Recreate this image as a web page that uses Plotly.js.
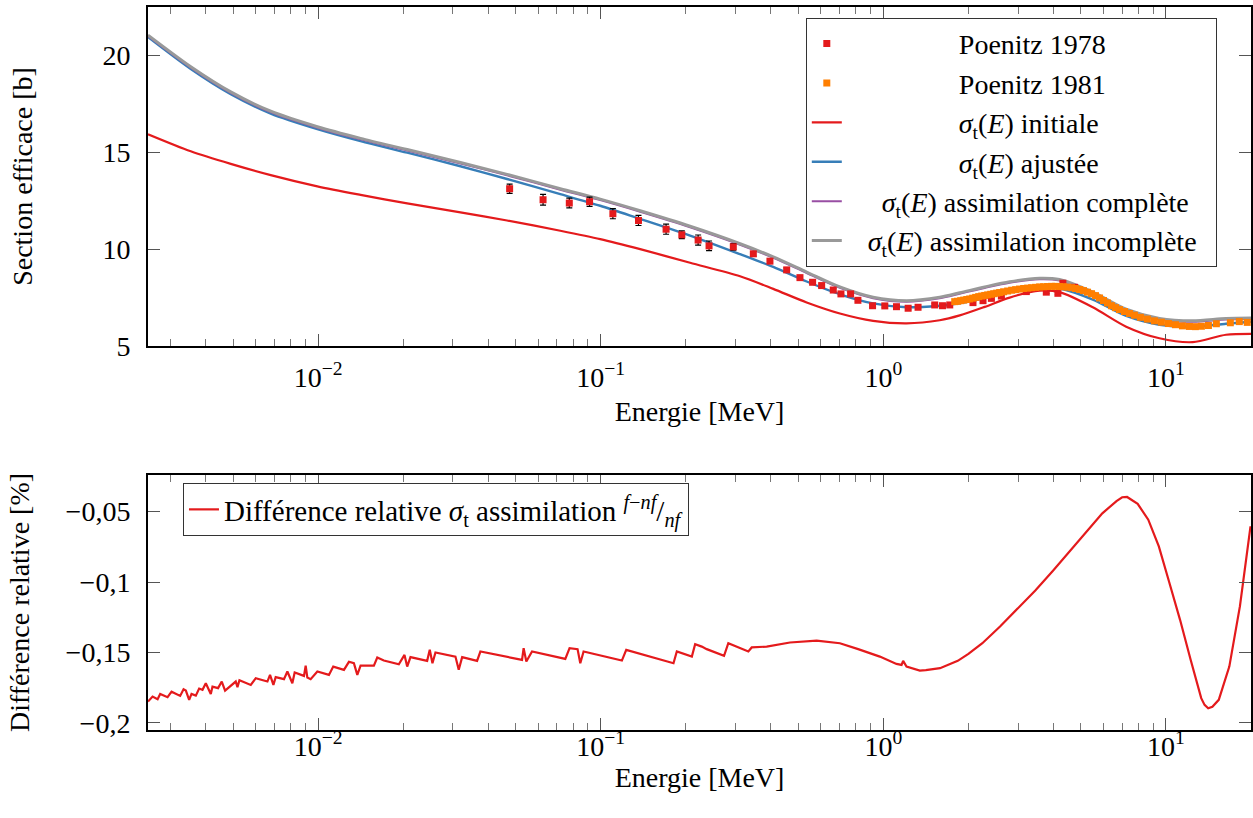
<!DOCTYPE html>
<html><head><meta charset="utf-8">
<script src="https://cdn.plot.ly/plotly-3.0.1.min.js"></script>
<style>html,body{margin:0;padding:0;background:#fff}#chart{width:1253px;height:818px}</style>
</head><body><div id="chart"></div>
<script>
// ---------- data ----------
const curveEnergy = [0.0025, 0.003543, 0.004906, 0.006796, 0.009936, 0.01413, 0.02066, 0.03188, 0.04662, 0.07193, 0.09959, 0.1379, 0.2071, 0.3112, 0.4078, 0.5354, 0.7019, 0.9204, 1.208, 1.583, 1.864, 2.284, 2.799, 3.573, 4.204, 5.512, 7.233, 9.485, 12.44, 16.32, 20];
const sigmaInitiale = [15.93, 15.05, 14.4, 13.82, 13.24, 12.8, 12.36, 11.9, 11.48, 10.95, 10.52, 10.0, 9.3, 8.6, 7.95, 7.25, 6.68, 6.3, 6.17, 6.33, 6.58, 7.02, 7.5, 7.86, 7.78, 7.0, 6.0, 5.4, 5.2, 5.58, 5.63];
const sigmaAjustee = [20.95, 19.3, 18.0, 17.0, 16.2, 15.58, 14.98, 14.28, 13.62, 12.84, 12.24, 11.56, 10.7, 9.74, 9.08, 8.33, 7.67, 7.2, 7.0, 7.08, 7.2, 7.47, 7.78, 8.02, 7.97, 7.4, 6.55, 6.1, 6.0, 6.15, 6.25];
const sigmaComplete = [21.0, 19.37, 18.07, 17.07, 16.27, 15.67, 15.09, 14.42, 13.81, 13.07, 12.53, 11.93, 11.13, 10.23, 9.55, 8.77, 8.0, 7.47, 7.29, 7.47, 7.7, 8.0, 8.27, 8.45, 8.38, 7.73, 6.85, 6.37, 6.25, 6.37, 6.39];
const sigmaIncomplete = [21.05, 19.42, 18.12, 17.12, 16.32, 15.72, 15.14, 14.47, 13.86, 13.12, 12.58, 11.98, 11.18, 10.28, 9.6, 8.82, 8.05, 7.52, 7.34, 7.52, 7.75, 8.05, 8.32, 8.5, 8.43, 7.78, 6.9, 6.42, 6.3, 6.42, 6.44];

const energy1978 = [0.0476, 0.0625, 0.0774, 0.0913, 0.1104, 0.136, 0.1703, 0.1936, 0.2211, 0.2417, 0.2945, 0.3467, 0.397, 0.455, 0.507, 0.562, 0.605, 0.665, 0.708, 0.766, 0.813, 0.916, 1.012, 1.113, 1.224, 1.327, 1.52, 1.619, 1.718, 2.076, 2.253, 2.412, 2.616, 3.206, 3.773, 4.147, 4.319, 4.750];
const sigma1978 = [13.12, 12.55, 12.38, 12.45, 11.83, 11.48, 11.03, 10.74, 10.47, 10.17, 10.12, 9.76, 9.38, 8.93, 8.53, 8.29, 8.12, 7.89, 7.69, 7.69, 7.36, 7.08, 7.07, 7.03, 6.95, 7.0, 7.12, 7.08, 7.12, 7.24, 7.34, 7.46, 7.58, 7.81, 7.78, 7.72, 8.24, 8.03];
const err1978 = [0.24, 0.28, 0.25, 0.24, 0.26, 0.26, 0.26, 0.2, 0.26, 0.25, 0.17, 0.12, 0.1, 0.1, 0.08, 0.08, 0.08, 0.08, 0.07, 0.07, 0.07, 0.07, 0.07, 0.07, 0.07, 0.07, 0.07, 0.07, 0.07, 0.07, 0.07, 0.07, 0.07, 0.07, 0.07, 0.07, 0.07, 0.07];

const energy1981 = [1.789, 1.83, 1.878, 1.925, 1.973, 2.021, 2.071, 2.122, 2.175, 2.229, 2.284, 2.34, 2.398, 2.458, 2.518, 2.58, 2.665, 2.754, 2.845, 2.939, 3.036, 3.137, 3.241, 3.348, 3.458, 3.573, 3.691, 3.813, 3.939, 4.069, 4.204, 4.343, 4.486, 4.635, 4.788, 4.947, 5.11, 5.279, 5.453, 5.634, 5.821, 6.013, 6.212, 6.417, 6.629, 6.849, 7.134, 7.43, 7.739, 8.126, 8.6, 9.107, 9.64, 10.21, 10.81, 11.44, 12.11, 12.71, 13.35, 14.14, 15.08, 16.9, 18.18, 19.4];
const sigma1981 = [7.29, 7.31, 7.34, 7.37, 7.40, 7.43, 7.47, 7.51, 7.55, 7.58, 7.61, 7.64, 7.67, 7.70, 7.73, 7.76, 7.80, 7.84, 7.88, 7.91, 7.94, 7.97, 7.99, 8.01, 8.03, 8.05, 8.06, 8.07, 8.08, 8.08, 8.07, 8.06, 8.04, 8.01, 7.97, 7.92, 7.86, 7.78, 7.70, 7.60, 7.48, 7.35, 7.22, 7.08, 6.98, 6.88, 6.78, 6.68, 6.59, 6.48, 6.39, 6.30, 6.23, 6.16, 6.10, 6.04, 6.01, 6.00, 6.02, 6.06, 6.15, 6.20, 6.26, 6.22];

const energyDiff = [0.0025, 0.002595, 0.002703, 0.002761, 0.002932, 0.003029, 0.003249, 0.00334, 0.003403, 0.003496,
  0.003564, 0.003691, 0.003792, 0.003898, 0.004004, 0.00417, 0.004228, 0.004425, 0.00456, 0.004685,
  0.00511, 0.005182, 0.005267, 0.005775, 0.006015, 0.006615, 0.006757, 0.006946, 0.007076, 0.007571,
  0.007783, 0.008105, 0.00826, 0.008911, 0.009034, 0.009158, 0.009408, 0.009936, 0.01092, 0.01131,
  0.01234, 0.01285, 0.01338, 0.01376, 0.01413, 0.01575, 0.01619, 0.01708, 0.0193, 0.02021,
  0.02066, 0.02122, 0.02431, 0.02483, 0.02538, 0.02601, 0.03061, 0.03144, 0.03233, 0.03651,
  0.03751, 0.05193, 0.05267, 0.05335, 0.05454, 0.05713, 0.07492, 0.07757, 0.08279, 0.08465,
  0.08696, 0.1188, 0.1231, 0.1809, 0.1859, 0.2101, 0.2158, 0.2278, 0.2372, 0.2731,
  0.2828, 0.3329, 0.3422, 0.3866, 0.4673, 0.5807, 0.7019, 0.8146, 0.9719, 1.113,
  1.16, 1.175, 1.208, 1.346, 1.414, 1.587, 1.834, 2.0, 2.241, 2.588, 2.988,
  3.45, 3.984, 4.598, 5.31, 5.956, 6.684, 7.0, 7.287, 7.943, 8.66, 9.438,
  10.29, 11.22, 12.23, 13.33, 13.7, 14.11, 14.6, 15.38, 16.76, 18.27, 19.92];
const relDiff = [-0.1848, -0.1813, -0.1832, -0.1794, -0.1817, -0.1778, -0.1808, -0.1761, -0.1770, -0.1836,
  -0.1794, -0.1806, -0.1756, -0.1765, -0.1718, -0.1794, -0.1742, -0.1753, -0.1706, -0.1770,
  -0.1706, -0.1746, -0.1697, -0.1730, -0.1682, -0.1706, -0.1659, -0.1730, -0.1675, -0.1689,
  -0.1635, -0.1718, -0.1642, -0.1666, -0.1593, -0.1678, -0.1689, -0.1635, -0.1659, -0.1600,
  -0.1623, -0.1566, -0.1576, -0.1659, -0.1593, -0.1593, -0.1536, -0.1557, -0.1583, -0.1517,
  -0.1600, -0.1533, -0.1559, -0.1481, -0.1576, -0.1500, -0.1529, -0.1623, -0.1533, -0.1559,
  -0.1493, -0.1552, -0.1552, -0.1469, -0.1564, -0.1493, -0.1545, -0.1469, -0.1476, -0.1576,
  -0.1493, -0.1557, -0.1481, -0.1576, -0.1493, -0.1529, -0.1441, -0.1458, -0.1476, -0.1524,
  -0.1434, -0.1493, -0.1464, -0.1458, -0.1429, -0.1415, -0.1434, -0.1476, -0.1529, -0.1581,
  -0.1588, -0.1559, -0.1600, -0.1628, -0.1625, -0.1611, -0.1559, -0.1510, -0.1434, -0.1315, -0.1190,
  -0.1060, -0.0920, -0.0775, -0.0625, -0.0512, -0.0425, -0.0398, -0.0396, -0.0445, -0.0557, -0.0747,
  -0.1007, -0.1268, -0.1552, -0.1824, -0.1872, -0.1896, -0.1885, -0.1836, -0.1600, -0.1173, -0.0604];

const xTickVals = [0.01, 0.1, 1, 10];
const xTickText = ['10<sup>−2</sup>', '10<sup>−1</sup>', '10<sup>0</sup>', '10<sup>1</sup>'];
const yTopTickVals = [5, 10, 15, 20];
const yTopTickText = ['5', '10', '15', '20'];
const yBotTickVals = [-0.2, -0.15, -0.1, -0.05];
const yBotTickText = ['−0,2', '−0,15', '−0,1', '−0,05'];

// ---------- styling ----------
const FONT = "'Liberation Serif', 'Times New Roman', Times, 'DejaVu Serif', serif";
const FS = 28, LFS = 28;
const RED = '#e41a1c', BLUE = '#377eb8', PURPLE = '#984ea3', ORANGE = '#ff7f00', GRAY = '#999999';
const sig = '<i>σ</i><sub>t</sub>(<i>E</i>)';
const pad = n => '\u00a0'.repeat(n);   // centres the legend texts as in the reference

const minorVals = [];
for (let d = -3; d <= 1; d++) for (let k = 2; k <= 9; k++) minorVals.push(k * Math.pow(10, d));

function xAxis(anchor, labelOff, titleOff) {
  return {
    type: 'log', range: [Math.log10(0.0025), Math.log10(20)], anchor: anchor,
    showline: true, linecolor: '#000', linewidth: 2, mirror: 'ticks',
    ticks: 'inside', ticklen: 12, tickwidth: 1, tickcolor: '#555',
    tickmode: 'array', tickvals: xTickVals, ticktext: xTickText, ticklabelstandoff: labelOff,
    minor: {ticks: 'inside', ticklen: 7, tickwidth: 1, tickcolor: '#777', tickmode: 'array', tickvals: minorVals, showgrid: false},
    showgrid: false, zeroline: false,
    tickfont: {family: FONT, size: FS, color: '#000'},
    title: {text: 'Energie [MeV]', font: {family: FONT, size: FS, color: '#000'}, standoff: titleOff}
  };
}
function yAxis(anchor, range, tv, tt, title, standoff) {
  return {
    range: range, anchor: anchor,
    showline: true, linecolor: '#000', linewidth: 2, mirror: 'ticks',
    ticks: 'inside', ticklen: 12, tickwidth: 1, tickcolor: '#555',
    tickmode: 'array', tickvals: tv, ticktext: tt, ticklabelstandoff: 10,
    showgrid: false, zeroline: false,
    tickfont: {family: FONT, size: FS, color: '#000'},
    title: {text: title, font: {family: FONT, size: FS, color: '#000'}, standoff: standoff}
  };
}

const traces = [
  {x: curveEnergy, y: sigmaInitiale, type: 'scatter', mode: 'lines', name: pad(16) + sig + ' initiale',
   line: {color: RED, width: 2.2, shape: 'spline', smoothing: 0.8}, legendrank: 3, xaxis: 'x', yaxis: 'y'},
  {x: curveEnergy, y: sigmaAjustee, type: 'scatter', mode: 'lines', name: pad(16) + sig + ' ajustée',
   line: {color: BLUE, width: 2.4, shape: 'spline', smoothing: 0.8}, legendrank: 4, xaxis: 'x', yaxis: 'y'},
  {x: curveEnergy, y: sigmaComplete, type: 'scatter', mode: 'lines', name: pad(5) + sig + ' assimilation complète',
   line: {color: PURPLE, width: 2, shape: 'spline', smoothing: 0.8}, legendrank: 5, xaxis: 'x', yaxis: 'y'},
  {x: curveEnergy, y: sigmaIncomplete, type: 'scatter', mode: 'lines', name: pad(3) + sig + ' assimilation incomplète' + pad(2),
   line: {color: GRAY, width: 3, shape: 'spline', smoothing: 0.8}, legendrank: 6, xaxis: 'x', yaxis: 'y'},
  {x: energy1978, y: sigma1978, type: 'scatter', mode: 'markers', name: pad(16) + 'Poenitz 1978',
   marker: {symbol: 'square', size: 7, color: RED},
   error_y: {type: 'data', array: err1978, visible: true, color: '#000', thickness: 1.2, width: 3},
   legendrank: 1, xaxis: 'x', yaxis: 'y'},
  {x: energy1981, y: sigma1981, type: 'scatter', mode: 'markers', name: pad(16) + 'Poenitz 1981',
   marker: {symbol: 'square', size: 7, color: ORANGE}, legendrank: 2, xaxis: 'x', yaxis: 'y'},
  {x: energyDiff, y: relDiff, type: 'scatter', mode: 'lines',
   name: 'Différence relative <i>σ</i><sub>t</sub> assimilation <sup><i>f</i>−<i>nf</i></sup>/<sub><i>nf</i></sub>',
   line: {color: RED, width: 2.2}, legend: 'legend2', xaxis: 'x2', yaxis: 'y2'}
];

const layout = {
  width: 1253, height: 818,
  margin: {l: 148, r: 2, t: 7, b: 88},
  paper_bgcolor: '#fff', plot_bgcolor: '#fff',
  font: {family: FONT, size: FS, color: '#000'},
  xaxis: Object.assign(xAxis('y', 5, 10), {domain: [0, 1]}),
  yaxis: Object.assign(yAxis('x', [5, 22.5], yTopTickVals, yTopTickText, 'Section efficace [b]', 62), {domain: [0.5311, 1]}),
  xaxis2: Object.assign(xAxis('y2', -10, 0), {domain: [0, 1]}),
  yaxis2: Object.assign(yAxis('x2', [-0.205, -0.024], yBotTickVals, yBotTickText, 'Différence relative [%]', 28), {domain: [0, 0.3527]}),
  showlegend: true,
  legend: {x: 0.969, xanchor: 'right', y: 0.985, yanchor: 'top', bgcolor: '#fff',
           bordercolor: '#333', borderwidth: 1, font: {family: FONT, size: LFS, color: '#000'},
           itemwidth: 30, tracegroupgap: 0},
  legend2: {x: 0.0317, xanchor: 'left', y: 0.3416, yanchor: 'top', bgcolor: '#fff',
            bordercolor: '#333', borderwidth: 1, font: {family: FONT, size: LFS + 1, color: '#000'},
            itemwidth: 30}
};

Plotly.newPlot('chart', traces, layout, {displayModeBar: false, staticPlot: true});
</script>
</body></html>
